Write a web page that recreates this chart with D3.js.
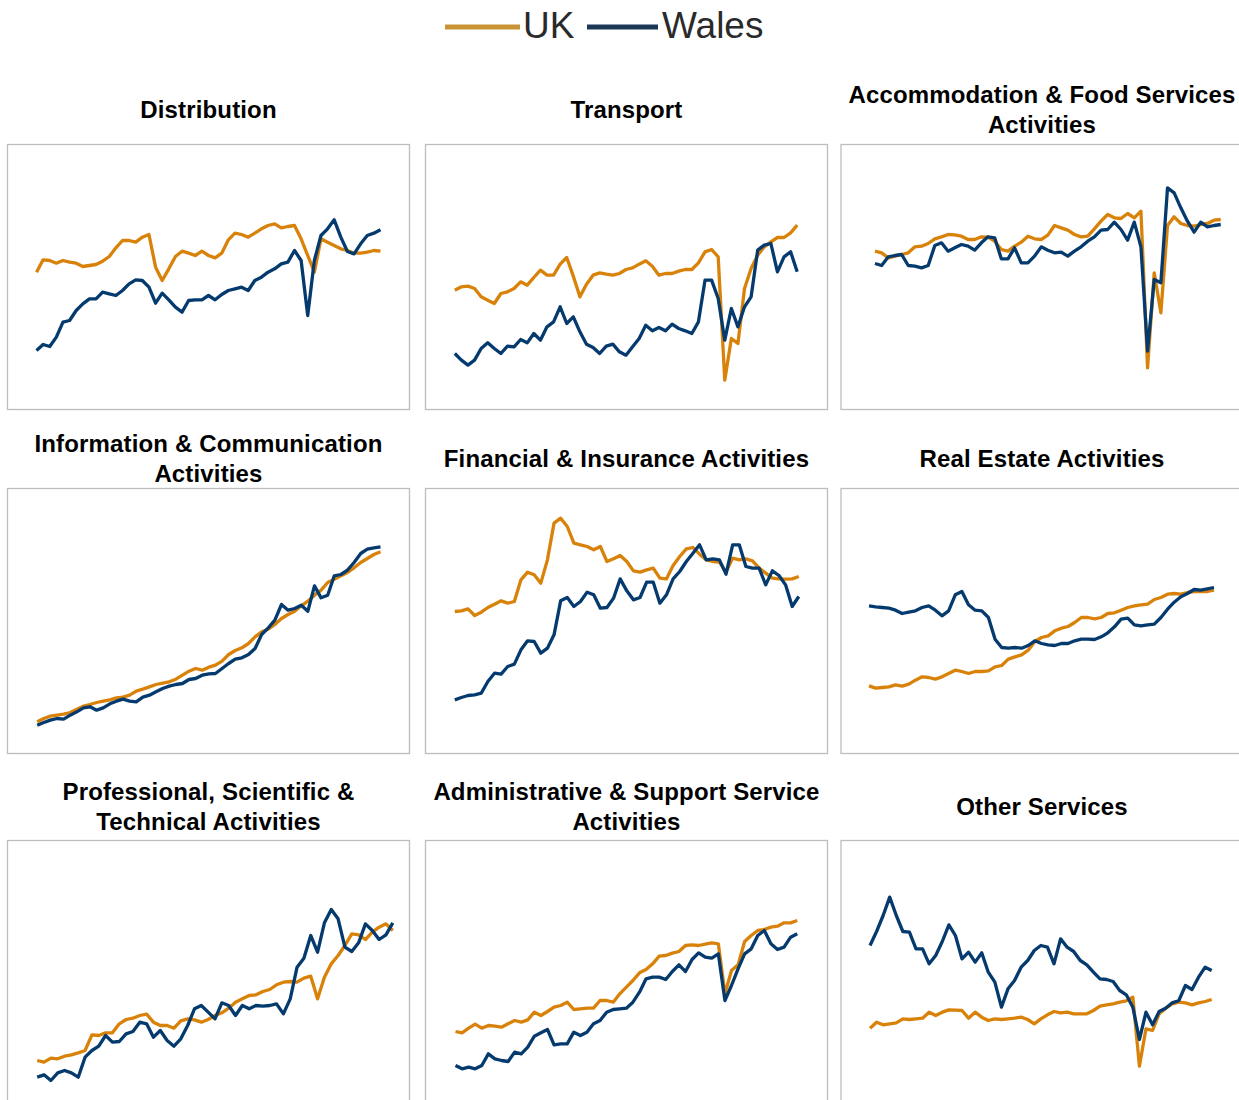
<!DOCTYPE html>
<html>
<head>
<meta charset="utf-8">
<script src="https://cdn.jsdelivr.net/npm/d3@7"></script>
<style>
    body { margin: 0; background: #fff; }
    svg { display: block; }
</style>
</head>
<body>
<svg id="chart"></svg>
<script>
// series names and panel titles
const seriesNames = ['UK', 'Wales'];
const panelTitles = [
    ['Distribution'],
    ['Transport'],
    ['Accommodation & Food Services', 'Activities'],
    ['Information & Communication', 'Activities'],
    ['Financial & Insurance Activities'],
    ['Real Estate Activities'],
    ['Professional, Scientific &', 'Technical Activities'],
    ['Administrative & Support Service', 'Activities'],
    ['Other Services']
];

// index values (no axis in the original, arbitrary units)
const distUK = [412,449,447,439,447,442,439,429,432,435,445,459,485,507,507,502,517,525,427,387,422,459,475,469,462,475,462,455,469,509,529,525,517,529,542,552,557,545,549,552,512,462,412,512,502,492,482,477,469,469,472,477,475];
const distWales = [177,195,189,217,262,267,297,317,332,332,352,347,342,357,377,389,387,367,319,349,329,307,292,327,329,329,342,329,345,357,362,367,357,387,397,412,422,437,442,477,447,282,447,522,542,569,517,474,467,497,522,529,539];

const transUK = [358,368,370,363,338,328,318,348,353,363,383,373,396,418,403,403,436,456,400,338,376,403,410,406,403,408,420,425,436,446,430,403,408,408,415,420,420,440,473,480,458,88,213,198,363,423,463,488,503,516,516,530,553];
const transWales = [168,148,133,148,183,200,183,168,190,188,210,200,228,208,248,263,308,258,278,233,196,186,168,190,196,173,163,188,213,253,236,246,236,256,243,236,228,263,388,388,333,208,303,248,308,338,478,493,498,413,458,473,413];

const accomUK = [475,470,455,460,465,470,488,490,498,512,518,525,524,520,510,510,518,517,505,480,475,490,502,520,512,510,523,552,545,538,525,518,520,542,565,585,575,573,588,575,595,125,410,290,552,578,558,552,550,555,558,568,570];
const accomWales = [438,432,458,462,465,432,430,425,432,492,500,475,485,495,490,478,500,518,515,452,452,485,440,440,460,488,478,470,472,460,475,488,505,518,538,540,562,540,508,562,488,175,390,380,665,650,605,565,532,562,548,552,555];

const infoUK = [95,105,112,115,118,123,133,142,147,153,157,161,167,169,175,187,193,200,207,211,215,223,235,247,255,250,259,265,277,297,309,317,330,350,365,373,387,405,417,427,443,457,475,490,513,523,533,543,557,573,585,597,605];
const infoWales = [85,93,100,105,103,115,125,137,140,130,137,149,157,163,157,155,169,175,185,195,202,207,210,222,225,235,239,240,255,270,283,287,297,315,357,377,400,447,430,435,445,427,503,467,475,533,537,550,573,600,613,617,620];

const finUK = [426,428,434,414,424,438,448,458,451,456,521,544,536,511,581,691,706,681,631,626,621,611,621,576,584,594,576,548,544,551,556,526,524,564,591,614,618,598,581,576,574,544,586,581,584,578,556,541,526,524,523,524,531];
const finWales = [161,168,174,176,181,216,241,238,261,268,311,338,336,301,316,356,458,468,441,456,484,476,436,438,466,524,488,461,468,514,514,451,476,524,546,576,601,626,581,584,581,538,626,626,561,556,556,506,548,534,506,441,471];

const realUK = [203,196,198,200,206,202,208,220,230,228,223,230,240,250,246,240,246,246,248,260,264,283,290,296,310,336,348,353,368,376,381,393,408,408,404,408,420,422,430,438,443,446,448,462,468,478,480,478,483,486,486,486,490];
const realWales = [443,440,438,436,430,420,424,428,438,443,430,413,428,476,486,446,430,428,408,343,318,316,318,316,324,338,330,326,324,330,330,338,343,343,342,350,362,380,403,406,386,383,386,388,408,433,454,470,480,492,490,494,498];

const profUK = [135,130,142,140,148,152,158,165,212,210,218,218,245,258,262,270,274,250,240,240,232,254,260,257,250,258,270,278,292,310,320,330,332,342,348,362,370,372,370,382,388,320,385,425,450,480,515,512,498,520,535,545,525];
const profWales = [85,92,75,98,105,98,85,145,165,178,210,190,192,215,222,250,245,205,225,195,178,200,240,290,300,280,260,308,300,270,300,290,300,298,300,305,275,320,415,442,510,460,548,588,560,475,462,488,545,525,498,512,548];

const adminUK = [222,218,232,244,232,240,238,235,245,255,250,257,280,270,282,295,300,310,288,290,292,292,315,315,310,335,355,375,398,408,425,448,450,457,462,480,482,480,484,488,485,335,405,422,492,510,525,528,535,538,548,548,555];
const adminWales = [120,110,115,110,120,155,140,135,132,160,155,175,208,218,228,182,185,185,220,210,220,245,255,280,288,290,292,310,340,380,385,385,378,402,422,402,438,458,445,442,455,315,360,410,455,470,510,525,485,468,475,505,515];

const otherUK = [232,250,242,245,248,260,258,260,262,280,270,280,287,286,285,262,280,265,255,260,258,260,262,265,258,245,260,272,282,278,280,275,275,275,285,298,302,305,310,314,325,118,230,225,275,292,305,310,308,302,308,312,318];
const otherWales = [480,522,570,625,570,522,520,470,470,425,450,492,542,510,440,460,430,458,400,370,295,350,375,415,435,465,480,475,425,500,475,462,435,422,400,380,378,372,345,332,295,198,280,242,282,292,308,315,360,348,385,415,405];

const ukSeries = [distUK, transUK, accomUK, infoUK, finUK, realUK, profUK, adminUK, otherUK];
const walesSeries = [distWales, transWales, accomWales, infoWales, finWales, realWales, profWales, adminWales, otherWales];


class SmallMultiple {

    constructor(_config, _data) {
        this.config = {
            parentElement: _config.parentElement,
            left: _config.left,
            bottom: _config.bottom,
            boxWidth: 402,
            boxHeight: 265,
            plotLeft: _config.plotLeft,
            plotRight: _config.plotRight,
            titleBase: _config.titleBase,
            yMax: 795,
            colors: ['#D9820A', '#053A6E']
        }
        this.data = _data;
        this.initVis();
    }

    initVis() {
        let vis = this;

        vis.g = vis.config.parentElement.append('g');

        // panel frame
        vis.g.append('rect')
            .attr('x', vis.config.left)
            .attr('y', vis.config.bottom - vis.config.boxHeight)
            .attr('width', vis.config.boxWidth)
            .attr('height', vis.config.boxHeight)
            .attr('fill', 'none')
            .attr('stroke', '#BDBDBD')
            .attr('stroke-width', 1.3);

        // title, one or two lines
        let lines = vis.data.title;
        let base = lines.length == 1 ? vis.config.titleBase + 15 : vis.config.titleBase;
        vis.g.selectAll('.panel-title')
            .data(lines)
            .enter()
            .append('text')
                .attr('class', 'panel-title')
                .attr('x', vis.config.left + vis.config.boxWidth / 2)
                .attr('y', (d, i) => base + i * 30)
                .attr('text-anchor', 'middle')
                .attr('font-family', '"Liberation Sans", Arial, sans-serif')
                .attr('font-weight', 'bold')
                .attr('font-size', '24px')
                .attr('letter-spacing', '0.15px')
                .attr('fill', '#000')
                .text(d => d);

        // scales
        vis.xScale = d3.scaleLinear()
            .range([vis.config.left + vis.config.plotLeft, vis.config.left + vis.config.plotRight]);
        vis.yScale = d3.scaleLinear()
            .domain([0, vis.config.yMax])
            .range([vis.config.bottom, vis.config.bottom - vis.config.boxHeight]);

        vis.updateVis();
    }

    updateVis() {
        let vis = this;

        vis.series = [vis.data.uk, vis.data.wales];
        vis.xScale.domain([0, d3.max(vis.series, s => s.length) - 1]);

        vis.line = d3.line()
            .x((d, i) => vis.xScale(i))
            .y(d => vis.yScale(d));

        vis.renderVis();
    }

    renderVis() {
        let vis = this;

        // UK first so that Wales sits on top
        vis.g.selectAll('.series')
            .data(vis.series)
            .enter()
            .append('path')
                .attr('class', 'series')
                .attr('d', d => vis.line(d))
                .attr('fill', 'none')
                .attr('stroke', (d, i) => vis.config.colors[i])
                .attr('stroke-width', 3.3)
                .attr('stroke-linejoin', 'round')
                .attr('stroke-linecap', 'butt');
    }
}


const svg = d3.select('#chart')
    .attr('width', 1239)
    .attr('height', 1100);

// legend
const legendItems = [
    { name: seriesNames[0], color: '#C99434', x1: 445, x2: 520, tx: 523 },
    { name: seriesNames[1], color: '#1C3656', x1: 587, x2: 658, tx: 662 }
];
const legend = svg.append('g');
legend.selectAll('line')
    .data(legendItems)
    .enter()
    .append('line')
        .attr('x1', d => d.x1)
        .attr('x2', d => d.x2)
        .attr('y1', 27)
        .attr('y2', 27)
        .attr('stroke', d => d.color)
        .attr('stroke-width', 5);
legend.selectAll('text')
    .data(legendItems)
    .enter()
    .append('text')
        .attr('x', d => d.tx)
        .attr('y', 37.5)
        .attr('font-family', '"Liberation Sans", Arial, sans-serif')
        .attr('font-size', '37px')
        .attr('fill', '#2A2A2A')
        .text(d => d.name);

// grid of panels
const colLefts = [7.5, 425.5, 841];
const rowBottoms = [409.5, 753.5, 1105.5];
const rowTitleBase = [103, 451.5, 799.5];
const plotInsets = [[29, 373], [29.3, 371.7], [34, 379.7], [29.7, 373], [29.3, 373.3], [28, 373], [29.7, 385.3], [30, 371.7], [29, 370.7]];

panelTitles.forEach((t, i) => {
    let row = Math.floor(i / 3);
    let col = i % 3;
    new SmallMultiple({
        parentElement: svg,
        left: colLefts[col],
        bottom: rowBottoms[row],
        plotLeft: plotInsets[i][0],
        plotRight: plotInsets[i][1],
        titleBase: rowTitleBase[row]
    }, { title: t, uk: ukSeries[i], wales: walesSeries[i] });
});
</script>
</body>
</html>
